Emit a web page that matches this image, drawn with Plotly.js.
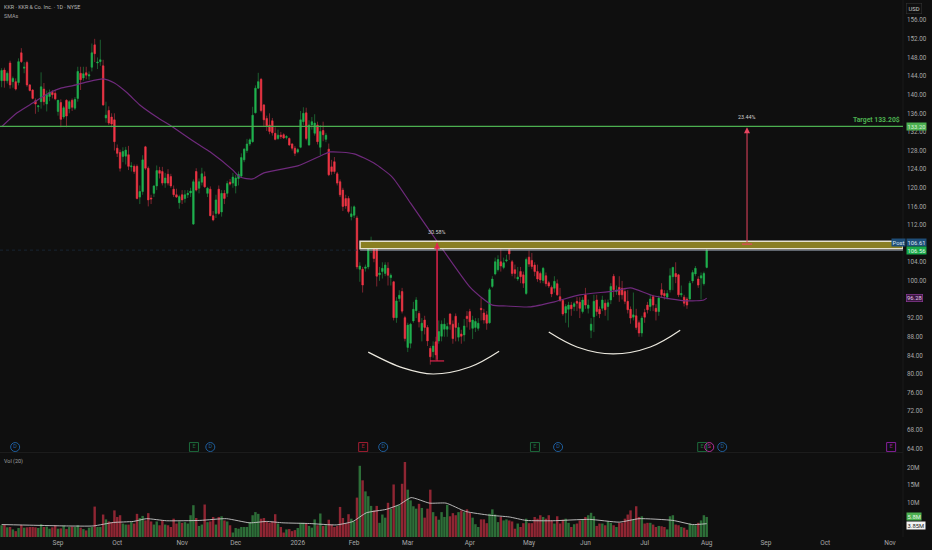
<!DOCTYPE html>
<html><head><meta charset="utf-8">
<script src="https://cdn.plot.ly/plotly-3.0.1.min.js"></script>
<style>html,body{margin:0;padding:0;background:#0f0f0f;overflow:hidden}#c{width:932px;height:550px}</style>
</head><body><div id="c"></div>
<script>
const open=[143.0,145.3,143.0,146.8,142.8,142.8,142.6,149.0,145.7,146.9,
142.1,141.0,138.7,137.4,138.5,141.2,138.0,139.6,140.5,140.3,
136.4,138.3,135.2,138.8,137.0,138.8,137.1,139.2,144.6,143.6,
144.7,144.0,145.9,150.7,146.8,147.1,146.2,135.0,136.6,135.2,
134.6,128.5,127.6,126.7,126.8,127.1,124.5,124.6,124.6,118.0,
119.2,128.8,124.2,117.8,118.8,120.4,123.7,123.5,121,122.9,
122.4,119.7,118.5,116.8,118.5,117.7,118.5,118.9,112.2,123.5,
119.9,121.2,122.4,118.8,119.7,114,114.5,119.7,114.8,118.8,
118.8,121.2,121.0,120.4,122,122.5,126.0,128,129.4,129.9,
136.1,141.4,143.3,137.8,134.9,133.5,134.4,131.7,130.6,131.3,
131.4,130.8,130.6,129.4,128.5,127.7,128.7,134.2,136.1,129.2,
133.5,131.7,133.5,128.7,132.3,130.4,128.3,124.5,125.6,123,
121.3,119.5,117.7,117.7,113.8,114.1,113.5,102.5,102.5,102.7,
103,108,107.7,106.9,101.3,102,101.6,102.7,100.7,99.8,
92.1,96.2,97.7,92.1,85.7,86.6,91.4,93.6,93,89.3,
91.6,90,85.5,84.8,86.9,87.1,88.1,89.6,89.6,92.9,
90.7,92.4,87.9,88.6,88.4,92.4,93.4,89.8,90,89.8,
94.1,93.1,92.7,91,98.8,101.5,102.4,104.1,102.9,104.3,
106.7,104.1,102.4,100.4,102,101.3,97.3,105.1,104.4,103.4,
102,101.6,100.1,101.1,99.6,98.6,98.4,99.4,96.6,95.8,
93.1,93.9,94.8,94.5,95.6,95.4,93.4,97,94.1,89.4,
92.3,95.9,93.9,94.1,95.2,94.5,95.9,101,97.7,98.6,
98.4,97.7,95.6,93.9,92.2,92.5,91,88.8,93.2,94.8,
94.5,96.6,94.1,93.4,98.1,97.3,96.5,98.1,100.9,101.6,
101.3,97,96.5,96.1,96.1,100,101.5,100.4,100.6,99.4,102.9];
const high=[145.7,145.8,145.0,147.3,143.9,143.5,147.8,150.0,147.0,147.3,
142.3,141.2,139.2,137.8,144.8,142.5,140.9,141.1,141.0,141.0,
138.8,139.0,137.6,139.0,138.8,139.2,139.5,146.0,146.0,146.0,
146.0,145.0,151.0,152.0,148,151.8,147.5,138.5,137.5,136,
136,129.3,128.2,128.7,128.8,129.0,125.5,125.0,125.0,120.5,
127.0,129.0,124.6,118.5,120.5,124.8,124.5,124.5,123.2,124,
123,120.5,119.8,118.5,119.5,119.5,119.5,120,121.8,124.2,
122,124.3,123.5,120.2,120.3,115,118.5,120.5,119.5,119.5,
121.5,121.9,123.2,122.8,123.5,127.4,128.5,130.5,130.6,137.4,
142,144.7,143.6,138,135.5,136,135,133,132.5,132,
131.7,131.3,130.8,129.6,129,128.5,136.5,137.3,137.2,134.5,
135.2,135.8,134.2,133.5,134.2,131.8,129.5,126,126.6,123.4,
121.8,120,118.5,118.2,116,116.2,114,104,103,103.5,
108.5,109.5,108.5,108,103,104,104,104,101.6,100,
96.5,98,98.5,92.5,91,91,95.5,96.5,93.5,92,
92.5,90.5,86,87,88,91.5,91.5,92,91,93,
91.5,93,91,89.5,91.8,93.5,94,92.5,92,92,
96.3,94,93.5,98.5,101,105,105.5,106.8,105,105.6,
107.7,104.5,103.5,103,103,102,105,106.5,106,104,
103.5,102,103,101.8,100,99,101,100.3,98.5,96,
95,95.5,95.5,95.5,96.5,96.5,96.5,98.5,96,92,
97,97,94.5,96.8,96,96,99.5,101.5,99,101,
100,98.5,98,94.5,97.5,94,91.5,92.5,94,95.5,
97,97,95,96.8,99.5,98,98,102.7,103,104,
101.5,99,97,96.5,100,102.3,103.2,101,101.8,102,106.9];
const low=[141.6,141.5,142.4,141.3,141.5,140.9,142.0,146.8,144.6,141.7,
140.7,139.0,135.9,136.3,137.0,137.7,136.4,138.6,139.2,138.8,
135.5,133.0,134.8,133.0,136.0,136.5,136.7,138.5,141.0,143.0,
143.3,143.2,145.0,147.0,145.5,146.2,137.6,134.0,133.5,133,
128,126.6,123.5,125.5,125.0,123.8,123.5,123.0,117.5,116.5,
118.5,123.8,116,116.5,118,119.5,122,120.5,120,120.5,
120,118,117.8,115.5,116.5,116.8,117.8,118,112,119.2,
118.8,120.5,120,118,113.9,112.8,113.5,114.2,113.8,116.5,
118,120.5,120,118.8,120.5,122.4,125.5,127.5,129,129.7,
136,141.2,136.2,133.2,132.2,131.5,131.2,130.2,130.3,130.5,
130.5,130.4,129,128,126.8,127.4,128.5,133.5,130.2,129,
132.5,131.2,129.3,127,130,129.8,122.5,122.8,123,120.5,
118,115,115.5,114.5,113,113.5,102.5,99.8,97.5,102,
102.5,106,104,98.8,100,100.5,101,99,99,91.5,
91,95.5,93,87,84.7,85.5,91,92,90,87,
88.5,86,82,83.5,83,86.5,87,88,88,89.5,
86.5,87,87,86.5,87,90,89.5,87.5,89,89.3,
91.5,90.8,89.5,90.8,98.5,101.2,102,102,102.5,104,
104.5,101,100.5,100,99.5,98.5,97,103,102.5,101,
99.8,99.5,99.5,98.8,98.5,96.5,97.5,96.8,95.5,92.5,
91,90,92.5,93.5,93.5,92,93,94,93,87.7,
89,92.5,92,93.5,92.5,91.5,95,96.5,97,95.5,
96,95,93,90.8,91.5,89.5,88,88,91,93,
93.5,93.5,91.5,92.5,96.5,96,96,97.5,98,99.5,
96.5,96.5,94.5,94,95.8,99.5,101,98.5,96,99,102.7];
const close=[145.2,143.0,144.6,142.1,143.5,141.2,147.1,147.1,145.9,142.1,
140.9,139.2,138.0,137.6,141.7,138.5,140.0,140.5,140.0,139.1,
138.8,134.7,137.2,135.4,138.5,137.3,139.0,145.0,143.2,144.5,
144.2,144.3,149.0,148.8,147.0,147.5,137.8,135.6,133.9,133.7,
129.9,127.4,124.2,127.8,128.1,124.6,124.7,123.5,117.7,119.2,
126.0,124.2,117.4,117.6,120.4,123.7,123.1,121,122.1,121.0,
120.4,118.5,118,118.1,117.4,118.5,118.8,119.3,121.3,119.5,
121.3,123.0,120.2,119.9,114,113.1,117.4,114.5,118.8,117.7,
120.9,120.8,122.3,122.1,122.9,126.5,128.3,129.4,130.3,135.6,
141.4,142.8,136.6,134.6,133.3,132.1,131.8,130.4,131.3,131,
130.7,131,129.2,128.5,127.4,128.2,134.6,136,130.6,133.5,
134.2,133.9,129.9,132.1,131.4,131.3,122.8,123.5,123.5,121,
118.5,116,116.1,114.9,114.4,115.9,103,103.2,99.1,103,
107.3,108.2,104.8,101,101.7,102.7,103.4,101.2,101.2,92.1,
95.7,96.9,93.5,87.6,90.5,90.7,93.9,95.9,91.2,90.9,
90,87.1,83.7,86,84.1,89.1,90.7,90.7,90.2,90.7,
87.6,90,90,88.1,90.3,91.9,91.2,91.6,91.3,90.9,
93.8,91.6,90.9,98.1,100.4,104.1,104.6,103.2,103.9,104.5,
105.8,101.6,101.6,100.8,100.9,99.5,104.6,103.6,103.1,102,
100.4,100.2,102.7,99.4,98.9,97.2,99.9,97,95.8,92.9,
94.5,94.8,94,95.1,95.2,94.1,95.9,94.8,94.8,90.7,
95.6,93.4,92.9,95.9,93.8,95.3,98.8,98.1,98,97,
97,95.6,93.8,92,92.7,90,88.8,92,92.2,93.8,
96.1,94.8,93.4,96.3,97,96.8,97.3,101.1,102.9,100.9,
97,97.3,95.2,94.8,99.5,101.8,102.7,99.1,101.1,101.6,106.6];
const volume=[3.4,3.5,2.8,2.9,2.2,1.7,2.6,3.5,2.7,2.8,2.9,2.9,2.8,2.6,3.7,2.9,3.0,2.4,2.8,3.4,2.4,2.5,3.3,2.3,2.9,3.0,2.9,3.4,2.7,2.3,1.9,2.7,2.9,
8.8,2.9,2.9,6.5,5.1,4.5,4.3,7.7,5.8,6.3,3.9,3.6,3.6,4.3,3.9,6.7,5.5,6.1,4.8,6.9,4.5,3.6,4.5,3.4,4.8,3.6,3.4,2.9,5.3,3.9,4.5,4.1,4.3,3.9,6.3,9.2,5.5,3.2,3.6,9.4,4.3,4.5,5.8,3.6,5.8,6.0,4.8,4.5,3.4,1.3,2.6,2.4,2.9,2.9,2.9,4.3,6.3,7.2,6.7,5.3,5.5,4.5,4.1,4.5,6.6,3.9,2.9,1.3,2.2,2.3,1.7,2.0,2.6,4.1,4.1,3.9,3.2,2.7,5.1,3.4,6.8,3.2,3.4,5.0,3.6,2.9,3.2,8.7,5.5,3.9,6.6,5.3,4.5,11.4,20.6,16.4,13.2,11.8,9.0,7.7,9.0,4.1,6.5,5.6,9.9,8.2,15.2,9.0,9.2,15.4,21.7,13.7,10.6,8.9,8.2,9.6,8.4,5.6,8.2,13.7,7.2,6.0,5.0,7.2,5.8,9.3,6.0,6.9,6.3,7.2,7.7,7.2,
8,7,5.6,3.7,2.9,5.1,5.1,4,6.7,8,6.5,4.3,5.8,4.8,5.1,4.8,4.5,2.4,3.9,2.9,4,5.3,4,4,5.8,5.3,6.3,5.8,5.3,6.3,4.8,3.9,6,3.9,5,5.3,4.1,2.9,3.7,3.9,4.8,5.1,5.8,6.3,7,6,3.2,3.9,3.9,3.4,4.5,4.1,3.4,2.9,4.1,4.1,5.3,6.5,7.7,5,8.9,5.8,6,3.9,4.1,4.1,3.6,2.9,3.2,3.1,2.9,2.2,6,6.3,3.6,3.4,2.9,2.7,2.1,3.9,3.6,3.4,4.1,4.8,6.3,5.8];
const smaBar=[0,5.5,11,17,21,25,30,36,40,44.5,49,55,60.5,69,74,82,84.5,89,93,105,113.6,116.5,125,132,138.5,145,154.5,166,170,174,179,187,196,205,217,223,231,243,249,250];
const smaVal=[133.1,136.1,138.2,140.4,141.4,141.9,142.7,143.4,142.5,140.4,137.8,135.2,133.1,129.6,127.7,123.8,122.3,121.9,123.2,124.7,127,127.7,127.3,125.3,122.3,116.7,108.4,98.7,96.5,94.8,94.6,94.4,95.5,97,97.8,98.5,96.8,95.7,95.9,96.3];
const volMaBar=[0,11.2,23,32.5,39.6,46.7,51.4,58.5,70.3,79.7,88,93.9,99.8,109.2,118.7,124.6,129.3,136.4,141.1,145.2,151.7,157.6,164.5,173,180,186,195.4,208.4,219,226,238,245,250];
const volMaVal=[3.6,3.4,3.2,3.2,4.2,4.5,5.3,4.7,4.8,5.3,4.1,4.5,4.1,3.9,3.5,4.5,7,8,9.4,11.4,9.8,9.8,7.4,6.3,5.8,4.8,4.7,5.1,4.3,5.3,4.8,3.6,3.85];
const cupBar=[130,142.3,153,166,176.4], cupVal=[84.7,81.3,80,81.5,84.9];
const handleBar=[194,204,216.8,230,240.6], handleVal=[89,85.8,84.3,85.8,89.4];
const monthBars=[20,41,64,83,105,125,144,166,187,207,228,250,271,292,315];
const monthText=['Sep','Oct','Nov','Dec','2026','Feb','Mar','Apr','May','Jun','Jul','Aug','Sep','Oct','Nov'];
const priceTicks=[64,68,72,76,80,84,88,92,100,104,112,116,120,124,128,132,136,140,144,148,152,156];
const volTicks=[10,15,20], volTickText=['10M','15M','20M'];
const dBars=[4.8,74,135.3,197.3,255.5], eGreenBars=[68.2,189.1,248.4], eRedBars=[128.2], ePurpleBars=[315.4], sBars=[250.9];
const target=133.2, zoneLow=106.9, zoneHigh=108.5, zoneStart=127.1;
const lastPost=106.61;
const drop={bar:154.4,from:108.2,to:82.8,capA:151.9,capB:156.9};
const rise={bar:264.3,from:107.9,to:133.0,capA:262.5,capB:266.1};

const idx=open.map((_,i)=>i);
const bodyHigh=open.map((v,i)=>Math.max(v,close[i]));
const bodyLow=open.map((v,i)=>Math.min(v,close[i]));
const UP='#1fb24f',DN='#f23645',UPW='#1c5e30',DNW='#7d2530';
const volColors=open.map((v,i)=>close[i]>=v?'#2d6e38':'#8f2633');
const wick={type:'candlestick',x:idx,open,high,low,close,xaxis:'x',yaxis:'y',width:0.3,whiskerwidth:0,
  increasing:{line:{color:UPW,width:1},fillcolor:UPW},decreasing:{line:{color:DNW,width:1},fillcolor:DNW},hoverinfo:'skip'};
const body={type:'candlestick',x:idx,open,high:bodyHigh,low:bodyLow,close,xaxis:'x',yaxis:'y',width:0.74,whiskerwidth:0,
  increasing:{line:{color:UP,width:0.4},fillcolor:UP},decreasing:{line:{color:DN,width:0.4},fillcolor:DN},hoverinfo:'skip'};
const sma={type:'scatter',mode:'lines',x:smaBar,y:smaVal,line:{color:'#6f2a7c',width:1.2,shape:'spline',smoothing:0.6},xaxis:'x',yaxis:'y',hoverinfo:'skip'};
const cup={type:'scatter',mode:'lines',x:cupBar,y:cupVal,line:{color:'#ece9df',width:1.2,shape:'spline'},xaxis:'x',yaxis:'y',hoverinfo:'skip'};
const handle={type:'scatter',mode:'lines',x:handleBar,y:handleVal,line:{color:'#ece9df',width:1.2,shape:'spline'},xaxis:'x',yaxis:'y',hoverinfo:'skip'};
const vol={type:'bar',x:idx,y:volume,marker:{color:volColors,line:{width:0}},xaxis:'x',yaxis:'y2',hoverinfo:'skip'};
const volMa={type:'scatter',mode:'lines',x:volMaBar,y:volMaVal,line:{color:'#c8c8c8',width:0.9,shape:'spline',smoothing:0.5},xaxis:'x',yaxis:'y2',hoverinfo:'skip'};
const ev=(xs,t,sym,c)=>({type:'scatter',mode:'markers+text',x:xs,y:xs.map(()=>64.3),text:xs.map(()=>t),textposition:'middle center',
  textfont:{size:5.5,color:c,family:'Roboto'},cliponaxis:false,marker:{symbol:sym,size:9,color:c,line:{color:c,width:1}},xaxis:'x',yaxis:'y',hoverinfo:'skip'});
const grey='#a8a8a8';
const font='Roboto, "Noto Sans", sans-serif';
const tag=(y,t,bg,col,yref,xoff,extra)=>Object.assign({xref:'paper',yref,x:1,y,xshift:xoff,xanchor:'left',yanchor:'middle',text:t,showarrow:false,
  bgcolor:bg,font:{size:5.8,color:col,family:font},borderpad:0.6},extra||{});
const layout={width:932,height:550,margin:{l:0,r:29,t:0,b:13,pad:0},paper_bgcolor:'#0f0f0f',plot_bgcolor:'#0f0f0f',showlegend:false,bargap:0.14,dragmode:false,
  font:{family:font,color:grey,size:6.5},
  xaxis:{range:[-0.57,319.6],tickmode:'array',tickvals:monthBars,ticktext:monthText,showgrid:false,zeroline:false,showline:false,ticks:'',
    tickfont:{size:6.5,color:grey},anchor:'y2',rangeslider:{visible:false},ticklen:0},
  yaxis:{domain:[0.1583,1],range:[63.24,160.34],side:'right',tickmode:'array',tickvals:priceTicks,ticktext:priceTicks.map(v=>v.toFixed(2)),
    showgrid:false,zeroline:false,showline:false,ticks:'',tickfont:{size:6.3,color:grey},anchor:'x',ticklabelstandoff:3},
  yaxis2:{domain:[0,0.1564],range:[0,24.3],side:'right',tickmode:'array',tickvals:volTicks,ticktext:volTickText,showgrid:false,zeroline:false,showline:false,ticks:'',
    tickfont:{size:6.3,color:grey},anchor:'x',ticklabelstandoff:3},
  shapes:[
    {type:'line',xref:'paper',yref:'paper',x0:0,x1:1,y0:0.1574,y1:0.1574,line:{color:'#1d1d1d',width:1}},
    {type:'line',xref:'paper',yref:'paper',x0:1,x1:1,y0:0,y1:1,line:{color:'#1a1a1a',width:1}},
    {type:'line',xref:'x',yref:'y',x0:-0.57,x1:zoneStart,y0:lastPost,y1:lastPost,line:{color:'#1c2f44',width:0.7,dash:'dot'}},
    {type:'line',xref:'x',yref:'y',x0:zoneStart,x1:319.6,y0:zoneLow-0.35,y1:zoneLow-0.35,line:{color:'#a9b4c6',width:0.6},layer:'above'},
    {type:'rect',xref:'x',yref:'y',x0:zoneStart,x1:319.6,y0:zoneLow,y1:zoneHigh,fillcolor:'#8a7f22',line:{color:'#e6e2cf',width:1.5},layer:'above'},
    {type:'line',xref:'paper',yref:'y',x0:0,x1:1,y0:target,y1:target,line:{color:'#4caf50',width:1.1},layer:'above'},
    {type:'line',xref:'x',yref:'y',x0:drop.bar,x1:drop.bar,y0:drop.from,y1:drop.to,line:{color:'#e0244d',width:1},layer:'above'},
    {type:'line',xref:'x',yref:'y',x0:drop.capA,x1:drop.capB,y0:drop.to,y1:drop.to,line:{color:'#e0244d',width:1.2},layer:'above'},
    {type:'line',xref:'x',yref:'y',x0:rise.capA,x1:rise.capB,y0:rise.from,y1:rise.from,line:{color:'#e84560',width:1.2},layer:'above'}
  ],
  annotations:[
    {xref:'paper',yref:'paper',x:0,xshift:1.5,y:1,yshift:-7,xanchor:'left',yanchor:'middle',text:'KKR · KKR &amp; Co. Inc. · 1D · NYSE',showarrow:false,font:{size:5.4,color:'#b8b8b8',family:font}},
    {xref:'paper',yref:'paper',x:0,xshift:1.5,y:1,yshift:-15.5,xanchor:'left',yanchor:'middle',text:'SMAs',showarrow:false,font:{size:5.4,color:'#a0a0a0',family:font}},
    {xref:'paper',yref:'paper',x:0,xshift:1.5,y:0.1564,yshift:-8,xanchor:'left',yanchor:'middle',text:'Vol (20)',showarrow:false,font:{size:5.4,color:'#a0a0a0',family:font}},
    {xref:'paper',yref:'paper',x:1,xshift:3,y:1,yshift:-8,xanchor:'left',yanchor:'middle',text:'USD',showarrow:false,bgcolor:'#0f0f0f',bordercolor:'#333',borderwidth:0.6,borderpad:2,font:{size:5.8,color:'#c8c8c8',family:font}},
    {xref:'paper',yref:'y',x:1,xshift:-1,y:target,yshift:6.5,xanchor:'right',yanchor:'middle',text:'<b>Target 133.20$</b>',showarrow:false,font:{size:6.8,color:'#4caf50',family:font}},
    {xref:'x',yref:'y',x:drop.bar,y:drop.from,yshift:11,xanchor:'center',yanchor:'middle',text:'30.58%',showarrow:false,font:{size:5.4,color:'#cfcfcf',family:font}},
    {xref:'x',yref:'y',x:rise.bar,y:rise.to,yshift:10,xanchor:'center',yanchor:'middle',text:'23.44%',showarrow:false,font:{size:5.4,color:'#cfcfcf',family:font}},
    {xref:'x',yref:'y',axref:'x',ayref:'y',x:rise.bar,y:rise.to,ax:rise.bar,ay:rise.from,text:'',showarrow:true,arrowhead:2,arrowsize:1.2,arrowwidth:1,arrowcolor:'#e84560'},
    {xref:'x',yref:'y',axref:'x',ayref:'y',x:drop.bar,y:drop.from,ax:drop.bar,ay:drop.to,text:'',showarrow:true,arrowhead:2,arrowsize:1.2,arrowwidth:1,arrowcolor:'#e0244d'},
    tag(target,'133.20','#4caf50','#d8f0d8','y',3),
    tag(108.2,'106.61','#1f4e79','#dde6ee','y',3),
    {xref:'paper',yref:'y',x:1,xshift:3,y:108.2,xanchor:'right',yanchor:'middle',text:'Post',showarrow:false,bgcolor:'#1f4e79',font:{size:5.8,color:'#dde6ee',family:font},borderpad:0.6},
    tag(106.5,'106.56','#17a84a','#e4f5e8','y',3),
    tag(96.28,'96.28','#3b1740','#e6c8ec','y',3,{bordercolor:'#8e3b99',borderwidth:0.7,borderpad:0.4}),
    tag(5.9,'5.8M','#4caf50','#e6f5e6','y2',3),
    tag(3.47,'3.85M','#f2f2f2','#222','y2',3)
  ]};
Plotly.newPlot('c',[vol,volMa,wick,body,sma,cup,handle,
  ev(dBars,'D','circle-open','#1f5f9e'),ev(eGreenBars,'E','square-open','#1d6b3c'),ev(eRedBars,'E','square-open','#a31e33'),
  ev(ePurpleBars,'E','square-open','#86209c'),ev(sBars,'S','circle-open','#b0309a')],layout,{displayModeBar:false,staticPlot:true});
</script></body></html>
